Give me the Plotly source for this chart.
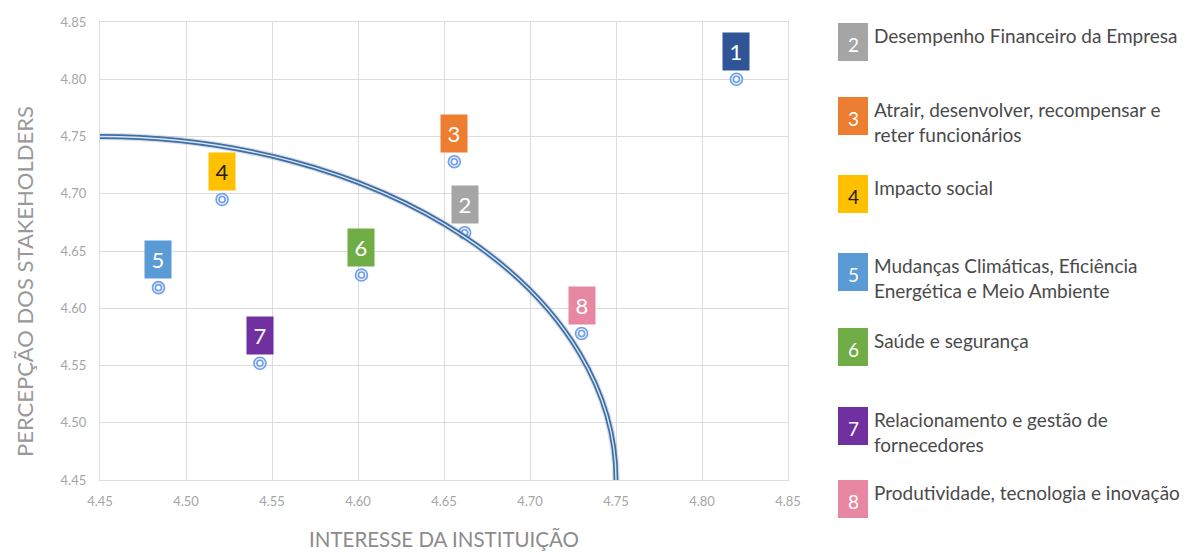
import plotly.graph_objects as go

# ── data ────────────────────────────────────────────────────
ids = ["1", "2", "3", "4", "5", "6", "7", "8"]
interesse = [4.820, 4.662, 4.656, 4.521, 4.484, 4.602, 4.543, 4.730]
percepcao = [4.800, 4.666, 4.728, 4.695, 4.618, 4.629, 4.552, 4.578]
box_colors = ["#2f5597", "#a5a5a5", "#ed7d31", "#ffc000",
              "#5b9bd5", "#70ad47", "#7030a0", "#e887a2"]
num_colors = ["white", "white", "white", "#222222",
              "white", "white", "white", "white"]

legend_ids = ["2", "3", "4", "5", "6", "7", "8"]
legend_texts = [
    "Desempenho Financeiro da Empresa",
    "Atrair, desenvolver, recompensar e<br>reter funcionários",
    "Impacto social",
    "Mudanças Climáticas, Eficiência<br>Energética e Meio Ambiente",
    "Saúde e segurança",
    "Relacionamento e gestão de<br>fornecedores",
    "Produtividade, tecnologia e inovação",
]
legend_tops = [23, 97, 175, 253, 328, 407, 480]   # px from top of page

x_ticks = [4.45, 4.50, 4.55, 4.60, 4.65, 4.70, 4.75, 4.80, 4.85]
y_ticks = [4.45, 4.50, 4.55, 4.60, 4.65, 4.70, 4.75, 4.80, 4.85]

# ── layout geometry (page has an 8px body margin) ───────────
OFF = 8
W, H = 1189 - OFF, 552 - OFF
L, T = 100 - OFF, 22 - OFF
PW, PH = 688, 458
R, B = W - L - PW, H - T - PH
FONT = "Lato, 'Open Sans', sans-serif"


def px_x(px):
    return (px - OFF - L) / PW


def px_y(py):
    return (T + PH - (py - OFF)) / PH


fig = go.Figure()

# materiality arc (quarter circle centred at the origin of the axes)
fig.add_shape(type="circle", xref="x", yref="y", x0=4.15, x1=4.75, y0=4.15, y1=4.75,
              line=dict(color="rgba(120,120,120,0.22)", width=7.5), layer="above")
fig.add_shape(type="circle", xref="x", yref="y", x0=4.15, x1=4.75, y0=4.15, y1=4.75,
              line=dict(color="#3c6ea8", width=4.8), layer="above")
fig.add_shape(type="circle", xref="x", yref="y", x0=4.15, x1=4.75, y0=4.15, y1=4.75,
              line=dict(color="#d6e6f7", width=1.4), layer="above")

# double-ring markers
fig.add_trace(
    go.Scatter(
        x=interesse, y=percepcao, mode="markers",
        marker=dict(symbol="circle", size=12, color="#e6eefc",
                    line=dict(width=1.6, color="#6d9eeb")),
        hoverinfo="skip", showlegend=False,
    )
)
fig.add_trace(
    go.Scatter(
        x=interesse, y=percepcao, mode="markers",
        marker=dict(symbol="circle", size=6, color="white",
                    line=dict(width=1.6, color="#6d9eeb")),
        hoverinfo="skip", showlegend=False,
    )
)

# numbered boxes above each point
for i, xv, yv, bc, nc in zip(ids, interesse, percepcao, box_colors, num_colors):
    fig.add_annotation(
        x=xv, y=yv, xref="x", yref="y", text=i, showarrow=False,
        yshift=28, width=24, height=35, bgcolor=bc,
        font=dict(family=FONT, size=22, color=nc),
    )

# legend on the right
for i, txt, top in zip(legend_ids, legend_texts, legend_tops):
    k = ids.index(i)
    fig.add_shape(type="rect", xref="paper", yref="paper",
                  x0=px_x(838), x1=px_x(868), y0=px_y(top + 38), y1=px_y(top),
                  fillcolor=box_colors[k], line=dict(width=0))
    fig.add_annotation(
        x=px_x(853), y=px_y(top + 21), xref="paper", yref="paper", text=i,
        showarrow=False, font=dict(family=FONT, size=19, color=num_colors[k]),
        xanchor="center", yanchor="middle",
    )
    fig.add_annotation(
        x=px_x(872), y=px_y(top - 1), xref="paper", yref="paper", text=txt,
        showarrow=False, align="left", xanchor="left", yanchor="top",
        font=dict(family=FONT, size=19, color="#4a4a4a"),
    )

# y axis title (sits a little below the plot centre in the original)
fig.add_annotation(
    x=px_x(24), y=px_y(282), xref="paper", yref="paper",
    text="PERCEPÇÃO DOS STAKEHOLDERS", textangle=-90, showarrow=False,
    xanchor="center", yanchor="middle",
    font=dict(family=FONT, size=22, color="#999999"),
)

fig.update_xaxes(
    range=[4.45, 4.85], tickvals=x_ticks, ticktext=[f"{v:.2f}" for v in x_ticks],
    showgrid=True, gridcolor="#dcdcdc", gridwidth=1.3, zeroline=False,
    showline=True, linecolor="#dcdcdc", linewidth=1.3, mirror=True, automargin=False,
    tickfont=dict(family=FONT, size=13, color="#a6a6a6"), ticks="", ticklabelstandoff=9,
    title=dict(text="INTERESSE DA INSTITUIÇÃO", standoff=24,
               font=dict(family=FONT, size=20.5, color="#8c8c8c")),
)
fig.update_yaxes(
    range=[4.45, 4.85], tickvals=y_ticks, ticktext=[f"{v:.2f}" for v in y_ticks],
    showgrid=True, gridcolor="#dcdcdc", gridwidth=1.3, zeroline=False,
    showline=True, linecolor="#dcdcdc", linewidth=1.3, mirror=True, automargin=False,
    tickfont=dict(family=FONT, size=13, color="#a6a6a6"), ticks="", ticklabelstandoff=10,
)

fig.update_layout(
    width=W, height=H, margin=dict(l=L, r=R, t=T, b=B),
    plot_bgcolor="white", paper_bgcolor="white", showlegend=False,
)

fig.write_html("out.html")
